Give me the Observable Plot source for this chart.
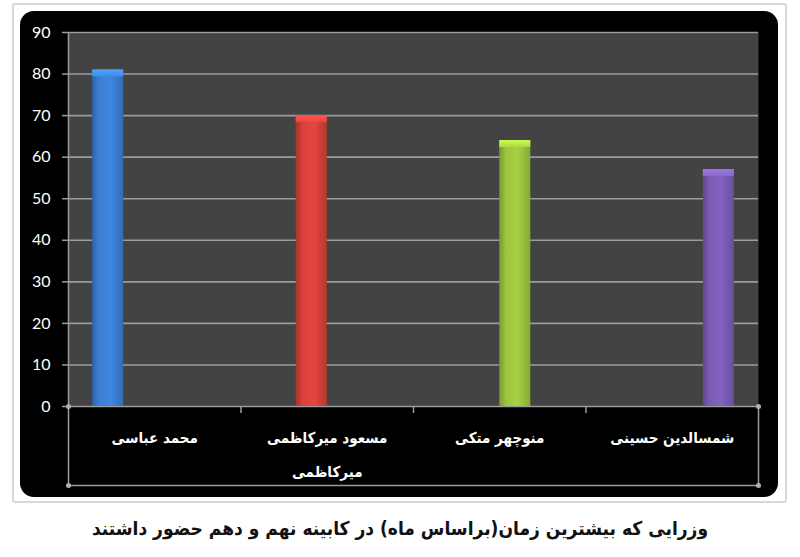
<!DOCTYPE html>
<html><head><meta charset="utf-8">
<script src="https://cdn.jsdelivr.net/npm/d3@7"></script>
<script src="https://cdn.jsdelivr.net/npm/@observablehq/plot@0.6"></script>
<style>
body{margin:0;background:#fff;width:800px;height:557px;overflow:hidden;position:relative;}
#sel{position:absolute;left:12px;top:3px;width:775px;height:500px;border:2px solid #cfdae1;border-radius:3px;box-sizing:border-box;}
#frame{position:absolute;left:20px;top:11px;width:758px;height:486px;background:#000;border-radius:14px;}
#chart{position:absolute;left:0;top:0;}
#title{position:absolute;left:0;top:510px;width:800px;text-align:center;direction:rtl;white-space:nowrap;font-family:"DejaVu Sans Condensed","DejaVu Sans";font-weight:bold;font-size:19px;color:#111;line-height:36px;}
</style></head><body>
<div id="sel"></div><div id="frame"></div><div id="chart"></div><div id="title"></div>
<script>
const categories = ["محمد عباسی", "مسعود میرکاظمی\nمیرکاظمی", "منوچهر متکی", "شمسالدین حسینی"];
const months = [81, 70, 64, 57];
const colors = ["#3b7fd4", "#d8413a", "#9dc63e", "#7c5db6"];
const yTicks = [0, 10, 20, 30, 40, 50, 60, 70, 80, 90];
const titleText = "وزرایی که بیشترین زمان(براساس ماه) در کابینه نهم و دهم حضور داشتند";

const rows = categories.map((name, i) => ({name, months: months[i], i}));
const n = categories.length;
const spread = 1.18;          // perspective spacing of the bars relative to the category bands
const hw = 0.09;              // half bar width in band units
const pos = i => n / 2 + (i - (n - 1) / 2) * spread;
const gridColor = "#9c9c9c";

const defs = () => {
  const svg = d3.create("svg:defs");
  colors.forEach((c, i) => {
    const g = svg.append("linearGradient").attr("id", "g" + i)
      .attr("x1", 0).attr("x2", 1).attr("y1", 0).attr("y2", 0);
    const base = d3.color(c);
    g.append("stop").attr("offset", "0%").attr("stop-color", base.darker(0.7));
    g.append("stop").attr("offset", "22%").attr("stop-color", base);
    g.append("stop").attr("offset", "60%").attr("stop-color", base.brighter(0.15));
    g.append("stop").attr("offset", "100%").attr("stop-color", base.darker(0.45));
    const t = svg.append("linearGradient").attr("id", "t" + i)
      .attr("x1", 0).attr("x2", 0).attr("y1", 0).attr("y2", 1);
    t.append("stop").attr("offset", "0%").attr("stop-color", base.brighter(0.7));
    t.append("stop").attr("offset", "100%").attr("stop-color", base.brighter(0.25));
  });
  return svg.node();
};

const plot = Plot.plot({
  width: 800, height: 505,
  marginLeft: 68, marginRight: 42, marginTop: 32, marginBottom: 99,
  style: {background: "transparent", overflow: "visible"},
  x: {domain: [0, n], axis: null},
  y: {domain: [0, 90], axis: null},
  color: {type: "identity"},
  marks: [
    defs,
    Plot.frame({fill: "#434343", stroke: null}),
    Plot.gridY(yTicks, {stroke: gridColor, strokeOpacity: 1, strokeWidth: 1.6}),
    Plot.axisY(yTicks, {color: "white", stroke: gridColor, label: null, tickSize: 6, tickPadding: 12, fontSize: 16, fontFamily: "Lato", strokeWidth: 1.5, tickFormat: d => d}),
    Plot.ruleX([0], {stroke: gridColor, strokeWidth: 1.5}),
    Plot.ruleX([0, n], {y1: () => 0, y2: () => 0, insetBottom: -79, stroke: gridColor, strokeWidth: 1.5}),
    Plot.ruleX(d3.range(1, n), {y1: () => 0, y2: () => 0, insetBottom: -7, stroke: gridColor, strokeWidth: 1.5}),
    Plot.ruleY([0], {dy: 79, stroke: gridColor, strokeWidth: 1.5}),
    Plot.dot([0, n], {x: d => d, y: () => 0, r: 2.5, fill: "#b0b0b0"}),
    Plot.dot([0, n], {x: d => d, y: () => 0, dy: 79, r: 2.5, fill: "#b0b0b0"}),
    Plot.rectY(rows, {x1: d => pos(d.i) - hw, x2: d => pos(d.i) + hw, y: "months", fill: d => `url(#g${d.i})`}),
    Plot.rect(rows, {x1: d => pos(d.i) - hw, x2: d => pos(d.i) + hw, y1: "months", y2: "months", insetBottom: -7, fill: d => `url(#t${d.i})`}),
    Plot.text(rows, {x: d => d.i + 0.5, y: () => 0, text: "name", dy: 12, lineAnchor: "top", lineHeight: 2.3,
      fill: "white", fontSize: 15, fontWeight: "bold", fontFamily: "DejaVu Sans Condensed"})
  ]
});
document.getElementById("chart").appendChild(plot);
document.getElementById("title").textContent = titleText;
</script>
</body></html>
